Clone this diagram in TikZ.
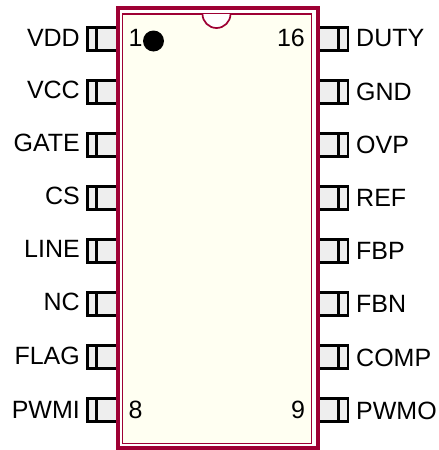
\documentclass[tikz,border=0pt]{standalone}
\usepackage{fontspec}
\setmainfont{Liberation Sans}
\usepackage{xcolor}
\definecolor{bodyred}{RGB}{158,0,52}
\definecolor{bodyfill}{RGB}{255,255,242}
\definecolor{pinfill}{RGB}{238,238,238}
\tikzset{
  pin box/.style={draw=black, fill=pinfill, line width=2.1pt},
  pin line/.style={draw=black, line width=2.1pt},
  lbl/.style={inner sep=0pt, text=black, font=\fontsize{25}{25}\selectfont},
  left lbl/.style={lbl, anchor=base east},
  right lbl/.style={lbl, anchor=base west},
  num lbl/.style={lbl, anchor=base}
}
\begin{document}
\begin{tikzpicture}[x=1pt,y=-1pt]
     \useasboundingbox (0,0) rectangle (439,450);

     \draw[pin box] (87.5,27.5) rectangle (117,50.5); \draw[pin line] (96.5,27.5) -- (96.5,50.5);
     \draw[pin box] (87.5,80.5) rectangle (117,103.5); \draw[pin line] (96.5,80.5) -- (96.5,103.5);
     \draw[pin box] (87.5,133.5) rectangle (117,156.5); \draw[pin line] (96.5,133.5) -- (96.5,156.5);
     \draw[pin box] (87.5,186.5) rectangle (117,209.5); \draw[pin line] (96.5,186.5) -- (96.5,209.5);
     \draw[pin box] (87.5,239.5) rectangle (117,262.5); \draw[pin line] (96.5,239.5) -- (96.5,262.5);
     \draw[pin box] (87.5,292.5) rectangle (117,315.5); \draw[pin line] (96.5,292.5) -- (96.5,315.5);
     \draw[pin box] (87.5,345.5) rectangle (117,368.5); \draw[pin line] (96.5,345.5) -- (96.5,368.5);
     \draw[pin box] (87.5,398.5) rectangle (117,421.5); \draw[pin line] (96.5,398.5) -- (96.5,421.5);

     \draw[pin box] (318,27.5) rectangle (348,50.5); \draw[pin line] (338.5,27.5) -- (338.5,50.5);
     \draw[pin box] (318,80.5) rectangle (348,103.5); \draw[pin line] (338.5,80.5) -- (338.5,103.5);
     \draw[pin box] (318,133.5) rectangle (348,156.5); \draw[pin line] (338.5,133.5) -- (338.5,156.5);
     \draw[pin box] (318,186.5) rectangle (348,209.5); \draw[pin line] (338.5,186.5) -- (338.5,209.5);
     \draw[pin box] (318,239.5) rectangle (348,262.5); \draw[pin line] (338.5,239.5) -- (338.5,262.5);
     \draw[pin box] (318,292.5) rectangle (348,315.5); \draw[pin line] (338.5,292.5) -- (338.5,315.5);
     \draw[pin box] (318,345.5) rectangle (348,368.5); \draw[pin line] (338.5,345.5) -- (338.5,368.5);
     \draw[pin box] (318,398.5) rectangle (348,421.5); \draw[pin line] (338.5,398.5) -- (338.5,421.5);

     \draw[bodyred, line width=4pt, fill=white] (117.5,7.5) rectangle (318,448);
     \draw[bodyred, line width=1.7pt, fill=bodyfill] (122.5,14) rectangle (311.5,443.5);
     \draw[bodyred, line width=1.7pt, fill=white] (202.5,14) arc[start angle=180, end angle=0, radius=14];
     \fill[black] (153.5,41) circle (10.5);

     \node[left lbl] (vdd) at (80,46) {VDD};
     \node[left lbl] (vcc) at (80,98) {VCC};
     \node[left lbl] (gate) at (80,151) {GATE};
     \node[left lbl] (cs) at (80,204) {CS};
     \node[left lbl] (line) at (80,257) {LINE};
     \node[left lbl] (nc) at (80,310) {NC};
     \node[left lbl] (flag) at (80,364) {FLAG};
     \node[left lbl] (pwmi) at (80,418) {PWMI};

     \node[right lbl] (duty) at (356,46) {DUTY};
     \node[right lbl] (gnd) at (356,100) {GND};
     \node[right lbl] (ovp) at (356,153) {OVP};
     \node[right lbl] (ref) at (356,206) {REF};
     \node[right lbl] (fbp) at (356,259) {FBP};
     \node[right lbl] (fbn) at (356,312) {FBN};
     \node[right lbl] (comp) at (356,366) {COMP};
     \node[right lbl] (pwmo) at (356,419) {PWMO};

     \node[num lbl] (one) at (135.5,46) {1};
     \node[num lbl] (sixteen) at (291,46) {16};
     \node[num lbl] (eight) at (135.5,418) {8};
     \node[num lbl] (nine) at (298,418) {9};
\end{tikzpicture}
\end{document}
